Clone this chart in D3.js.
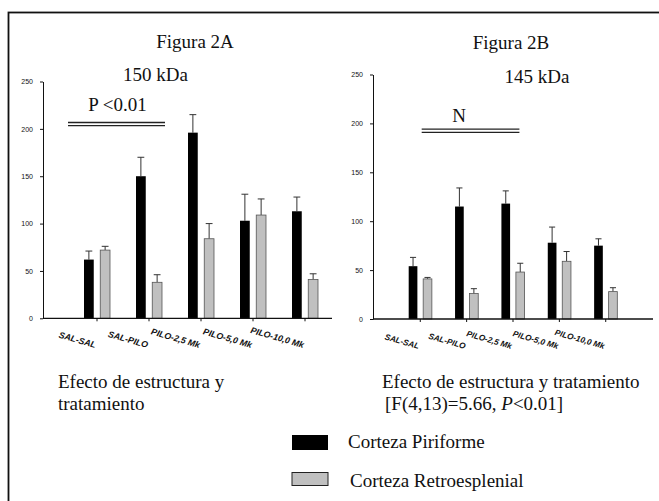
<!DOCTYPE html>
<html>
<head>
<meta charset="utf-8">
<script src="https://cdn.jsdelivr.net/npm/d3@7"></script>
<style>
    body { margin: 0; background: #fff; }
    svg { display: block; }
    .serif { font-family: 'Liberation Serif', 'Times New Roman', serif; fill: #111; }
    .sans { font-family: 'Liberation Sans', Arial, sans-serif; fill: #111; }
</style>
</head>
<body>
<div id="chart"></div>
<script>
// Grupos de tratamiento (eje X)
const groups = ['SAL-SAL', 'SAL-PILO', 'PILO-2,5 Mk', 'PILO-5,0 Mk', 'PILO-10,0 Mk'];
const seriesNames = ['Corteza Piriforme', 'Corteza Retroesplenial'];
const seriesColors = ['#000000', '#c0c0c0'];
const yTicks = [0, 50, 100, 150, 200, 250];

// Figura 2A - 150 kDa
const piriforme150 = [62, 150, 196, 103, 113];
const piriforme150Err = [9, 20, 19, 28, 15];
const retro150 = [72, 38, 84, 109, 41];
const retro150Err = [4, 8, 16, 17, 6];

// Figura 2B - 145 kDa
const piriforme145 = [54, 115, 118, 78, 75];
const piriforme145Err = [9, 19, 13, 16, 7];
const retro145 = [41, 26, 48, 59, 28];
const retro145Err = [1.5, 5, 9, 10, 4];

const width = 659;
const height = 501;

const svg = d3.select('#chart')
    .append('svg')
    .attr('width', width)
    .attr('height', height);

// marco de la figura
svg.append('rect')
    .attr('x', 8.5)
    .attr('y', 12.5)
    .attr('width', 700)
    .attr('height', 600)
    .attr('fill', 'none')
    .attr('stroke', '#111')
    .attr('stroke-width', 1.8);

function buildRows(means, errs) {
    return groups.map((group, i) => ({ group, means: means.map((m) => m[i]), errs: errs.map((e) => e[i]) }));
}

function drawPanel(cfg) {
    const x0 = d3.scaleBand()
        .domain(groups)
        .range(cfg.xRange)
        .paddingInner(0.5)
        .paddingOuter(0.25);

    const x1 = d3.scaleBand()
        .domain(seriesNames)
        .range([0, x0.bandwidth()])
        .paddingInner(0.4);

    const y = d3.scaleLinear()
        .domain([0, 250])
        .range(cfg.yRange);

    const g = svg.append('g');

    // eje Y
    const yAxis = g.append('g')
        .attr('transform', `translate(${cfg.axisStart},0)`)
        .call(d3.axisLeft(y).tickValues(yTicks).tickSize(3).tickPadding(7).tickSizeOuter(0));
    yAxis.selectAll('text')
        .attr('class', 'sans')
        .attr('fill', '#111')
        .attr('font-size', '7px');
    yAxis.selectAll('path, line').attr('stroke', '#111');

    // barras
    const rows = buildRows(cfg.means, cfg.errs);
    const groupSel = g.selectAll('.grp')
        .data(rows)
        .enter()
        .append('g')
        .attr('class', 'grp')
        .attr('transform', (d) => `translate(${x0(d.group)},0)`);

    const bars = groupSel.selectAll('.bar')
        .data((d) => seriesNames.map((name, i) => ({ name, value: d.means[i], err: d.errs[i], idx: i })))
        .enter();

    bars.append('line')
        .attr('x1', (d) => x1(d.name) + x1.bandwidth() / 2)
        .attr('x2', (d) => x1(d.name) + x1.bandwidth() / 2)
        .attr('y1', (d) => y(d.value))
        .attr('y2', (d) => y(d.value + d.err))
        .attr('stroke', '#333')
        .attr('stroke-width', 1);

    bars.append('line')
        .attr('x1', (d) => x1(d.name) + x1.bandwidth() * 0.15)
        .attr('x2', (d) => x1(d.name) + x1.bandwidth() * 0.85)
        .attr('y1', (d) => y(d.value + d.err))
        .attr('y2', (d) => y(d.value + d.err))
        .attr('stroke', '#333')
        .attr('stroke-width', 1);

    bars.append('rect')
        .attr('x', (d) => x1(d.name))
        .attr('y', (d) => y(d.value))
        .attr('width', x1.bandwidth())
        .attr('height', (d) => y(0) - y(d.value))
        .attr('fill', (d) => seriesColors[d.idx])
        .attr('stroke', (d) => (d.idx === 0 ? 'none' : '#555'))
        .attr('stroke-width', 0.8);

    // eje X
    const xAxis = g.append('g')
        .attr('transform', `translate(0,${y(0)})`)
        .call(d3.axisBottom(x0).tickSize(3).tickFormat(''));
    xAxis.select('.domain').remove();
    xAxis.selectAll('line').attr('stroke', '#111');

    g.append('line')
        .attr('x1', cfg.axisStart)
        .attr('x2', cfg.axisEnd)
        .attr('y1', y(0))
        .attr('y2', y(0))
        .attr('stroke', '#111')
        .attr('stroke-width', 1.3);

    // etiquetas inclinadas
    g.selectAll('.xlab')
        .data(groups)
        .enter()
        .append('text')
        .attr('class', 'sans')
        .attr('text-anchor', 'end')
        .attr('font-size', cfg.labelSize)
        .attr('font-weight', 'bold')
        .attr('font-style', 'italic')
        .attr('transform', (d) => `translate(${x0(d) + x0.bandwidth() / 2 - 2},${cfg.labelY}) rotate(16)`)
        .text((d) => d);

    // barra de significación (doble línea)
    const sx1 = x0(cfg.sig.from) + cfg.sig.dx1;
    const sx2 = x0(cfg.sig.to) + cfg.sig.dx2;
    [-1.6, 1.6].forEach((off) => {
        g.append('line')
            .attr('x1', sx1)
            .attr('x2', sx2)
            .attr('y1', y(cfg.sig.value) + off)
            .attr('y2', y(cfg.sig.value) + off)
            .attr('stroke', '#222')
            .attr('stroke-width', 1.3);
    });

    cfg.texts.forEach((t) => {
        g.append('text')
            .attr('class', 'serif')
            .attr('x', t.x)
            .attr('y', t.y)
            .attr('text-anchor', t.anchor || 'middle')
            .attr('font-size', '19px')
            .text(t.text);
    });
}

drawPanel({
    means: [piriforme150, retro150],
    errs: [piriforme150Err, retro150Err],
    xRange: [71, 331],
    yRange: [318.3, 81.5],
    axisStart: 43,
    axisEnd: 332,
    labelY: 348,
    labelSize: '8.8px',
    sig: { from: 'SAL-SAL', to: 'SAL-PILO', dx1: -16, dx2: 29, value: 205 },
    texts: [
        { text: 'Figura 2A', x: 195, y: 47.5 },
        { text: '150 kDa', x: 155.5, y: 81 },
        { text: 'P <0.01', x: 117.5, y: 111 },
        { text: 'Efecto de estructura y', x: 58, y: 388, anchor: 'start' },
        { text: 'tratamiento', x: 58, y: 410, anchor: 'start' }
    ]
});

drawPanel({
    means: [piriforme145, retro145],
    errs: [piriforme145Err, retro145Err],
    xRange: [397.1, 628.9],
    yRange: [319, 74.5],
    axisStart: 373,
    axisEnd: 653,
    labelY: 349,
    labelSize: '8.2px',
    sig: { from: 'SAL-SAL', to: 'PILO-2,5 Mk', dx1: 13, dx2: 18, value: 192.5 },
    texts: [
        { text: 'Figura 2B', x: 511, y: 49.3 },
        { text: '145 kDa', x: 537, y: 83.3 },
        { text: 'N', x: 459, y: 122.3 },
        { text: 'Efecto de estructura y tratamiento', x: 382, y: 388, anchor: 'start' }
    ]
});

// texto estadístico con P en cursiva
const stat = svg.append('text')
    .attr('class', 'serif')
    .attr('x', 385)
    .attr('y', 410)
    .attr('font-size', '19px');
stat.append('tspan').text('[F(4,13)=5.66, ');
stat.append('tspan').attr('font-style', 'italic').text('P');
stat.append('tspan').text('<0.01]');

// leyenda
const legend = svg.append('g')
    .attr('class', 'legend')
    .attr('transform', 'translate(292,435)');

legend.selectAll('rect')
    .data(seriesNames)
    .enter()
    .append('rect')
    .attr('x', 0)
    .attr('y', (_, i) => i * 37.5)
    .attr('width', 36)
    .attr('height', (_, i) => (i === 0 ? 15 : 13))
    .attr('fill', (_, i) => seriesColors[i])
    .attr('stroke', (_, i) => (i === 0 ? 'none' : '#222'))
    .attr('stroke-width', 1);

legend.selectAll('text')
    .data(seriesNames)
    .enter()
    .append('text')
    .attr('class', 'serif')
    .attr('x', (_, i) => 56 + i * 2)
    .attr('y', (_, i) => 13 + i * 39)
    .attr('font-size', '19px')
    .text((d) => d);
</script>
</body>
</html>
